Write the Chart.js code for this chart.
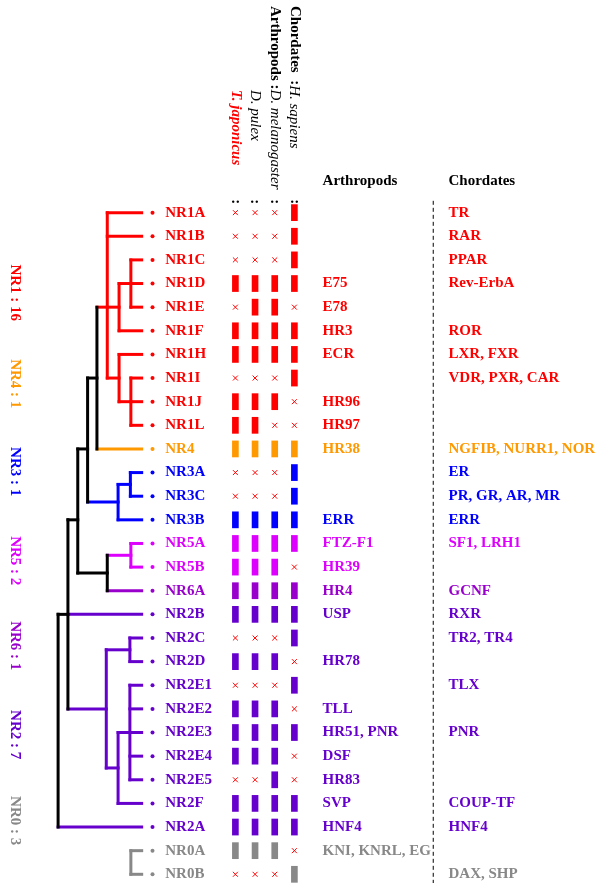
<!DOCTYPE html>
<html>
<head>
<meta charset="utf-8">
<script src="https://cdn.jsdelivr.net/npm/chart.js@4"></script>
<style>
body{margin:0;background:#fff}
#dibujo{width:600px;height:888px;position:relative}
</style>
</head>
<body>
<div id="dibujo"><canvas id="myChart"></canvas></div>
<script>
// filas del arbol (de arriba a abajo)
var genes = ['NR1A','NR1B','NR1C','NR1D','NR1E','NR1F','NR1H','NR1I','NR1J','NR1L','NR4','NR3A','NR3C','NR3B','NR5A','NR5B','NR6A','NR2B','NR2C','NR2D','NR2E1','NR2E2','NR2E3','NR2E4','NR2E5','NR2F','NR2A','NR0A','NR0B'];
var grupos = ['NR1','NR1','NR1','NR1','NR1','NR1','NR1','NR1','NR1','NR1','NR4','NR3','NR3','NR3','NR5','NR5','NR6','NR2','NR2','NR2','NR2','NR2','NR2','NR2','NR2','NR2','NR2','NR0','NR0'];
var artropodos = ['','','','E75','E78','HR3','ECR','','HR96','HR97','HR38','','','ERR','FTZ-F1','HR39','HR4','USP','','HR78','','TLL','HR51, PNR','DSF','HR83','SVP','HNF4','KNI, KNRL, EG',''];
var cordados = ['TR','RAR','PPAR','Rev-ErbA','','ROR','LXR, FXR','VDR, PXR, CAR','','','NGFIB, NURR1, NOR','ER','PR, GR, AR, MR','ERR','SF1, LRH1','','GCNF','RXR','TR2, TR4','','TLX','','PNR','','','COUP-TF','HNF4','','DAX, SHP'];

// presencia (1) / ausencia (0)
var tjap = [0,0,0,1,0,1,1,0,1,1,1,0,0,1,1,1,1,1,0,1,0,1,1,1,0,1,1,1,0];
var dpul = [0,0,0,1,1,1,1,0,1,1,1,0,0,1,1,1,1,1,0,1,0,1,1,1,0,1,1,1,0];
var dmel = [0,0,0,1,1,1,1,0,1,0,1,0,0,1,1,1,1,1,0,1,0,1,1,1,1,1,1,1,0];
var hsap = [1,1,1,1,0,1,1,1,0,0,1,1,1,1,1,0,1,1,1,0,1,0,1,0,0,1,1,0,1];

// etiquetas laterales
var resumen = ['NR1 : 16','NR4 : 1','NR3 : 1','NR5 : 2','NR6 : 1','NR2 : 7','NR0 : 3'];
var resumenGrupo = ['NR1','NR4','NR3','NR5','NR6','NR2','NR0'];
var resumenFila = [3.39, 7.24, 10.96, 14.73, 18.33, 22.09, 25.73];

// nodos internos: id, profundidad, fila, padre, grupo
var nodoId    = ['raiz','b5','b3','b2','b1','r0','r1','r3','r2','r4','bl','bl2','b4','m','p1','p2','p3','p4','g'];
var nodoX     = [54, 64, 74, 84, 93.5, 104, 116, 128, 116, 128, 115, 127.5, 104, 128, 103, 127, 115, 127, 128];
var nodoFila  = [21.5, 17, 13, 10, 7, 4, 4, 3, 7, 8, 12.25, 11.5, 15.25, 14.5, 21, 18.5, 23.5, 22, 27.5];
var nodoPadre = ['', 'raiz','b5','b3','b2','b1','r0','r1','r0','r2','b2','bl','b3','b4','b5','p1','p1','p3',''];
var nodoGrupo = ['','','','','','NR1','NR1','NR1','NR1','NR1','NR3','NR3','','NR5','NR2','NR2','NR2','NR2','NR0'];
// padre de cada hoja
var hojaPadre = ['r0','r0','r3','r3','r3','r1','r2','r4','r4','r4','b1','bl2','bl2','bl','m','m','b4','b5','p2','p2','p4','p4','p4','p4','p4','p3','raiz','g','g'];

var colores = {NR1:'#ff0000', NR4:'#ff9900', NR3:'#0000ff', NR5:'#dd00ff', NR6:'#9900cc', NR2:'#6600cc', NR0:'#888888', '':'#000000'};

var puntaX = 139;
var colPunto = 150, colGen = 163, colArt = 323, colCor = 451, colLinea = 435.5;
var colEsp = [234.3, 254.3, 274.3, 294.3];
var pasoFila = 23.9, filaTop = 210;

function colorDe(g){ return colores[g] || '#000000'; }

function ramas(){
    var segs = [];
    for (var i = 0; i < nodoId.length; i++){
        var c = colorDe(nodoGrupo[i]);
        if (nodoPadre[i] !== ''){
            var p = nodoId.indexOf(nodoPadre[i]);
            segs.push([nodoX[p], nodoFila[i], nodoX[i], nodoFila[i], c]);
        }
        var ys = [];
        for (var j = 0; j < nodoId.length; j++) if (nodoPadre[j] === nodoId[i]) ys.push(nodoFila[j]);
        for (var k = 0; k < hojaPadre.length; k++) if (hojaPadre[k] === nodoId[i]) ys.push(k);
        if (ys.length){
            segs.push([nodoX[i], Math.min.apply(null, ys), nodoX[i], Math.max.apply(null, ys), c]);
        }
    }
    for (var h = 0; h < genes.length; h++){
        var q = nodoId.indexOf(hojaPadre[h]);
        segs.push([nodoX[q], h, puntaX, h, colorDe(grupos[h])]);
    }
    return segs;
}

function rotado(ctx, x, y, partes, centro){
    ctx.save();
    ctx.translate(x, y);
    ctx.rotate(Math.PI / 2);
    ctx.textBaseline = 'middle';
    var total = 0, i;
    for (i = 0; i < partes.length; i++){ ctx.font = partes[i][1]; total += ctx.measureText(partes[i][0]).width; }
    var pos = centro ? -total / 2 : 0;
    ctx.textAlign = 'left';
    for (i = 0; i < partes.length; i++){
        ctx.font = partes[i][1];
        ctx.fillStyle = partes[i][2];
        ctx.fillText(partes[i][0], pos, 0);
        pos += ctx.measureText(partes[i][0]).width;
    }
    ctx.restore();
}

var textos = {
    id: 'textos',
    afterDatasetsDraw: function(chart){
        var ctx = chart.ctx;
        var sx = chart.scales.x, sy = chart.scales.y;
        var B = 'bold 15px "Liberation Serif"', I = 'italic 15px "Liberation Serif"', BI = 'bold italic 15px "Liberation Serif"';
        ctx.save();
        ctx.textBaseline = 'middle';
        ctx.textAlign = 'left';
        ctx.font = B;
        for (var i = 0; i < genes.length; i++){
            var py = sy.getPixelForValue(i);
            ctx.fillStyle = colorDe(grupos[i]);
            ctx.fillText(genes[i], sx.getPixelForValue(colGen), py);
            ctx.fillText(artropodos[i], sx.getPixelForValue(colArt), py);
            ctx.fillText(cordados[i], sx.getPixelForValue(colCor), py);
        }
        ctx.fillStyle = '#000';
        var ph = sy.getPixelForValue(-1.35);
        ctx.fillText('Arthropods', sx.getPixelForValue(colArt), ph);
        ctx.fillText('Chordates', sx.getPixelForValue(colCor), ph);
        ctx.restore();

        // cabeceras giradas
        var top = chart.chartArea.top;
        rotado(ctx, sx.getPixelForValue(colEsp[3]), top + 1, [['Chordates', B, '#000'], ['  :', B, '#000'], ['H. sapiens', I, '#000']]);
        rotado(ctx, sx.getPixelForValue(colEsp[2]), top + 1, [['Arthropods', B, '#000'], [' :', B, '#000'], ['D. melanogaster', I, '#000']]);
        rotado(ctx, sx.getPixelForValue(colEsp[1]), top + 85, [['D. pulex', I, '#000']]);
        rotado(ctx, sx.getPixelForValue(colEsp[0]), top + 85, [['T. japonicus', BI, '#ff0000']]);
        for (var k = 0; k < colEsp.length; k++){
            rotado(ctx, sx.getPixelForValue(colEsp[k]), sy.getPixelForValue(-0.46), [[':', B, '#000']], true);
        }
        for (var r = 0; r < resumen.length; r++){
            rotado(ctx, sx.getPixelForValue(10), sy.getPixelForValue(resumenFila[r]), [[resumen[r], B, colorDe(resumenGrupo[r])]], true);
        }
    }
};

function armar(){
    var datasets = [];
    var segs = ramas();
    for (var s = 0; s < segs.length; s++){
        datasets.push({
            type: 'line',
            data: [{x: segs[s][0], y: segs[s][1]}, {x: segs[s][2], y: segs[s][3]}],
            borderColor: segs[s][4],
            borderWidth: 3,
            borderCapStyle: 'square',
            pointRadius: 0,
            fill: false
        });
    }
    // linea punteada
    datasets.push({
        type: 'line',
        data: [{x: colLinea, y: -0.5}, {x: colLinea, y: 28.5}],
        borderColor: '#000', borderWidth: 1, borderDash: [4, 3], pointRadius: 0, fill: false
    });
    // puntos de las hojas
    datasets.push({
        type: 'scatter',
        data: genes.map(function(g, i){ return {x: colPunto, y: i}; }),
        pointRadius: 2,
        pointBorderWidth: 0,
        pointBackgroundColor: grupos.map(colorDe)
    });
    var especies = [tjap, dpul, dmel, hsap];
    var barras = [], barColor = [], cruces = [];
    for (var k = 0; k < especies.length; k++){
        for (var i = 0; i < genes.length; i++){
            if (especies[k][i]){
                barras.push({x: colEsp[k], y: [i - 0.34, i + 0.34]});
                barColor.push(colorDe(grupos[i]));
            } else {
                cruces.push({x: colEsp[k], y: i});
            }
        }
    }
    datasets.push({
        type: 'bar',
        data: barras,
        backgroundColor: barColor,
        barThickness: 6,
        grouped: false
    });
    datasets.push({
        type: 'scatter',
        data: cruces,
        pointStyle: 'crossRot',
        pointRadius: 3.5,
        pointBorderWidth: 1,
        pointBorderColor: '#ff0000'
    });
    return datasets;
}

var ctx = document.getElementById('myChart').getContext('2d');
var chart = new Chart(ctx, {
    type: 'scatter',
    data: {datasets: armar()},
    options: {
        responsive: true,
        maintainAspectRatio: false,
        animation: false,
        events: [],
        layout: {padding: 0},
        plugins: {legend: {display: false}, tooltip: {enabled: false}},
        scales: {
            x: {type: 'linear', min: 0, max: 600, offset: false, display: false},
            y: {type: 'linear', min: -filaTop / pasoFila, max: (888 - filaTop) / pasoFila, offset: false, reverse: true, display: false}
        }
    },
    plugins: [textos]
});
</script>
</body>
</html>
